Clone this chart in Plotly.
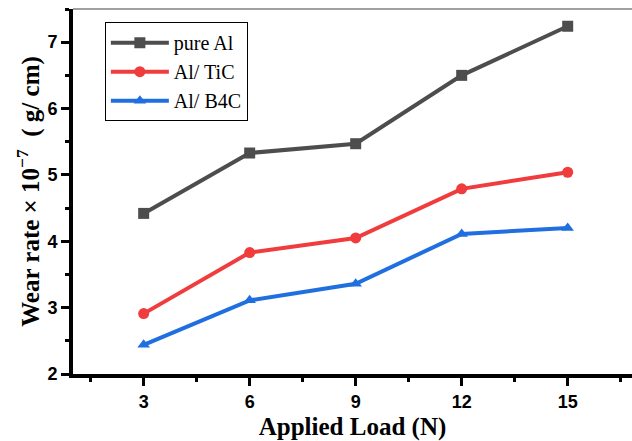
import plotly.graph_objects as go

loads = [3, 6, 9, 12, 15]
pure_al = [4.42, 5.33, 5.47, 6.50, 7.24]
al_tic = [2.91, 3.83, 4.05, 4.79, 5.04]
al_b4c = [2.44, 3.11, 3.36, 4.11, 4.20]
x_ticks = [3, 6, 9, 12, 15]
y_ticks = [2, 3, 4, 5, 6, 7]

series = [
    ("pure Al", pure_al, "#4d4d4d", "square"),
    ("Al/ TiC", al_tic, "#f03c3c", "circle"),
    ("Al/ B4C", al_b4c, "#1f6fe0", "triangle-up"),
]

fig = go.Figure()
for name, vals, col, sym in series:
    fig.add_trace(go.Scatter(
        x=loads, y=vals, name=name, mode="lines+markers",
        line=dict(color=col, width=4),
        marker=dict(symbol=sym, size=11, color=col),
    ))

fig.update_layout(
    width=632, height=441,
    margin=dict(l=73, r=0, t=9, b=67),
    plot_bgcolor="white", paper_bgcolor="white",
    font=dict(family="Liberation Sans", size=18, color="black", weight="bold"),
    showlegend=True,
    legend=dict(
        x=0.057, y=0.964, xanchor="left", yanchor="top",
        bordercolor="black", borderwidth=1, bgcolor="white",
        font=dict(family="Liberation Serif", size=20, color="black", weight="normal"),
        tracegroupgap=0, itemwidth=58,
    ),
)
fig.update_xaxes(
    range=[1, 16.82], tickvals=x_ticks,
    showgrid=False, zeroline=False,
    showline=True, linecolor="black", linewidth=4,
    ticks="outside", ticklen=8, tickwidth=3, tickcolor="black",
    minor=dict(tickvals=[1.5, 4.5, 7.5, 10.5, 13.5, 16.5], ticks="outside", ticklen=4, tickwidth=3, tickcolor="black"),
    title=dict(text="<b>Applied Load (N)</b>", standoff=8,
               font=dict(family="Liberation Serif", size=25, color="black")),
)
fig.update_yaxes(
    range=[2, 7.5], tickvals=y_ticks,
    showgrid=False, zeroline=False,
    showline=True, linecolor="black", linewidth=4,
    ticks="outside", ticklen=8, tickwidth=3, tickcolor="black",
    minor=dict(tickvals=[2.5, 3.5, 4.5, 5.5, 6.5, 7.5], ticks="outside", ticklen=4, tickwidth=3, tickcolor="black"),
    title=dict(text="<b>Wear rate × 10<sup>−7</sup>  ( g/ cm)</b>", standoff=2,
               font=dict(family="Liberation Serif", size=25, color="black")),
)
fig.add_shape(type="line", xref="paper", yref="paper", x0=0, x1=1, y0=1, y1=1,
              line=dict(color="#808080", width=1.5))

fig.write_html("out.html")
